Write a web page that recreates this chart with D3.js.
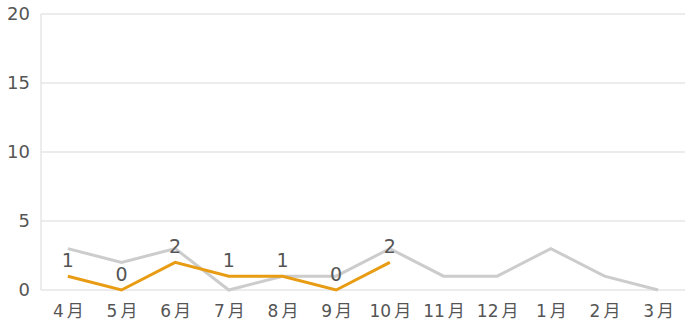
<!DOCTYPE html>
<meta charset="utf-8">
<script src="https://d3js.org/d3.v7.min.js"></script>
<style>
  body { margin: 0; background: #fff; }
  text { font-family: "DejaVu Sans", "Noto Sans CJK JP", sans-serif; fill: #555; }
</style>
<div id="my_dataviz"></div>
<script>
// data
var months = ["4月", "5月", "6月", "7月", "8月", "9月", "10月", "11月", "12月", "1月", "2月", "3月"];
var lastYear = [3, 2, 3, 0, 1, 1, 3, 1, 1, 3, 1, 0];
var thisYear = [1, 0, 2, 1, 1, 0, 2];
var yTicks = [0, 5, 10, 15, 20];

var margin = {top: 14, right: 0, bottom: 40, left: 41},
    width = 685 - margin.left - margin.right,
    height = 330 - margin.top - margin.bottom;

var svg = d3.select("#my_dataviz")
  .append("svg")
    .attr("width", 685)
    .attr("height", 330)
  .append("g")
    .attr("transform", "translate(" + margin.left + "," + margin.top + ")");

var x = d3.scalePoint()
  .domain(months)
  .range([0, width])
  .padding(0.5);

var y = d3.scaleLinear()
  .domain([0, 20])
  .range([height, 0]);

// grid
svg.append("g")
  .selectAll("line")
  .data(yTicks)
  .enter().append("line")
    .attr("x1", 0)
    .attr("x2", width)
    .attr("y1", function(d) { return y(d); })
    .attr("y2", function(d) { return y(d); })
    .attr("stroke", "#e6e6e6")
    .attr("stroke-width", 1.5);

svg.append("line")
  .attr("x1", 0).attr("x2", 0)
  .attr("y1", 0).attr("y2", height)
  .attr("stroke", "#e6e6e6")
  .attr("stroke-width", 1.5);

// y axis labels
var yAxis = svg.append("g")
  .call(d3.axisLeft(y).tickValues(yTicks).tickSize(0).tickPadding(11));
yAxis.select(".domain").remove();
yAxis.selectAll("text")
  .style("font-size", "18px")
  .attr("fill", "#555");

// x axis labels (small gap before 月)
var xAxis = svg.append("g")
  .attr("transform", "translate(0," + height + ")")
  .call(d3.axisBottom(x).tickSize(0).tickPadding(15));
xAxis.select(".domain").remove();
xAxis.selectAll("text")
  .style("font-size", "17px")
  .attr("fill", "#555")
  .each(function(d) {
    var t = d3.select(this).text("");
    t.append("tspan").text(d.slice(0, -1));
    t.append("tspan").attr("dx", 3).text(d.slice(-1));
  });

var line = d3.line()
  .x(function(d, i) { return x(months[i]); })
  .y(function(d) { return y(d); });

svg.append("path")
  .datum(lastYear)
  .attr("fill", "none")
  .attr("stroke", "#cccccc")
  .attr("stroke-width", 3)
  .attr("d", line);

svg.append("path")
  .datum(thisYear)
  .attr("fill", "none")
  .attr("stroke", "#e89c14")
  .attr("stroke-width", 3)
  .attr("d", line);

svg.append("g")
  .selectAll("text")
  .data(thisYear)
  .enter().append("text")
    .attr("x", function(d, i) { return x(months[i]); })
    .attr("y", function(d) { return y(d) - 9; })
    .attr("text-anchor", "middle")
    .style("font-size", "19px")
    .text(function(d) { return d; });
</script>
